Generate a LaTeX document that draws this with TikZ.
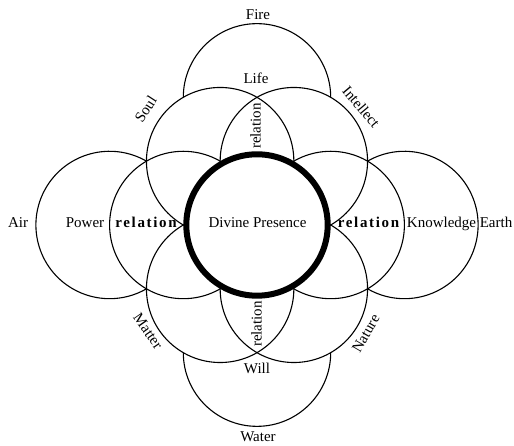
\documentclass[tikz,border=0pt]{standalone}
\usepackage{fontspec}
\setmainfont{Liberation Serif}
\begin{document}
\begin{tikzpicture}[x=1pt,y=1pt,
  ring/.style={line width=1.1pt},
  core/.style={line width=6pt, fill=white},
  lbl/.style={font=\fontsize{15}{18}\selectfont, inner sep=0pt, text height=10pt, text depth=3pt},
  rel/.style={lbl, font=\fontsize{15}{18}\selectfont\bfseries\addfontfeature{LetterSpace=11}}]
\useasboundingbox (0,0) rectangle (514,446);
\def\R{73.7}
\coordinate (O) at (257,221);
% six petal circles
\foreach \a in {0,60,...,300}
  \draw[ring] (O) ++(\a:\R) circle (\R);
% outer partial circles
\draw[ring] (O) ++(90:127.65) ++(180:\R) arc[start angle=180, end angle=0, radius=\R];
\draw[ring] (O) ++(270:127.65) ++(0:\R) arc[start angle=0, end angle=-180, radius=\R];
\draw[ring] (O) ++(180:147.4) ++(60:\R) arc[start angle=60, end angle=300, radius=\R];
\draw[ring] (O) ++(0:147.4) ++(120:\R) arc[start angle=120, end angle=-120, radius=\R];
% central circle
\draw[core] (O) circle (70.7);
% labels
\node[lbl] (fire) at (258,430) {Fire};
\node[lbl] (life) at (256,366) {Life};
\node[lbl, rotate=57] (soul) at (147,336) {Soul};
\node[lbl, rotate=-50] (intellect) at (360,338) {Intellect};
\node[lbl, rotate=90] (reltop) at (257,320) {relation};
\node[lbl] (air) at (18,222) {Air};
\node[lbl] (power) at (85,222) {Power};
\node[rel] (relleft) at (146,222) {relation};
\node[lbl] (divine) at (257.5,222) {Divine Presence};
\node[rel] (relright) at (368.5,222) {relation};
\node[lbl] (knowledge) at (441.5,222) {Knowledge};
\node[lbl] (earth) at (496,222) {Earth};
\node[lbl, rotate=-55] (matter) at (147,114) {Matter};
\node[lbl, rotate=90] (relbottom) at (258,122) {relation};
\node[lbl, rotate=60] (nature) at (367,112) {Nature};
\node[lbl] (will) at (257,76) {Will};
\node[lbl] (water) at (258,8) {Water};
\end{tikzpicture}
\end{document}
